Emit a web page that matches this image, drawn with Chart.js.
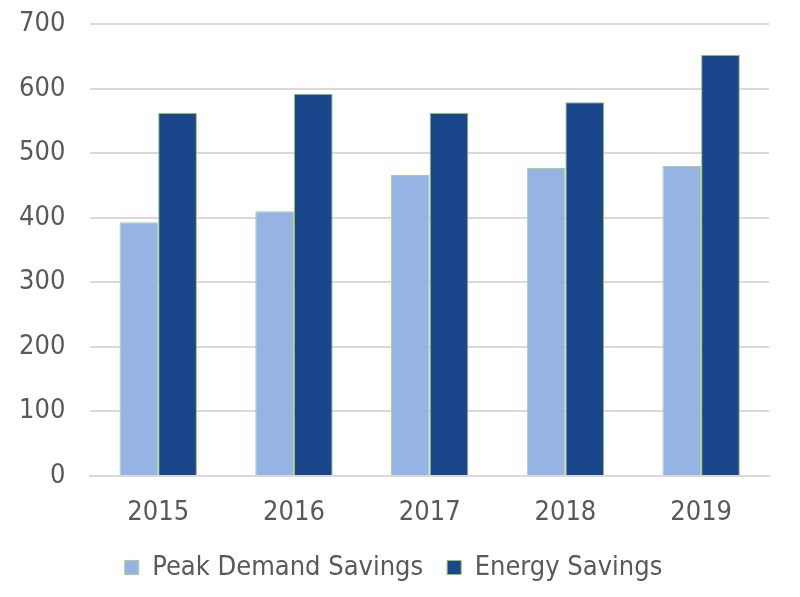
<!DOCTYPE html>
<html>
<head>
<meta charset="utf-8">
<script src="https://cdn.jsdelivr.net/npm/chart.js@4"></script>
<style>
  html, body { margin: 0; padding: 0; background: #fff; }
  #wrap { width: 800px; height: 597px; }
</style>
</head>
<body>
<div id="wrap"><canvas id="chart"></canvas></div>
<script>
const years = ["2015", "2016", "2017", "2018", "2019"];
const peakDemand = [393, 410, 466, 477, 480];
const energySavings = [562, 592, 562, 579, 652];

const textColor = "#595959";
const fontFamily = "'DejaVu Sans Condensed', 'Liberation Sans Narrow', sans-serif";

new Chart(document.getElementById("chart"), {
    type: "bar",
    data: {
        labels: years,
        datasets: [
            {
                label: "Peak Demand Savings",
                data: peakDemand,
                backgroundColor: "#95b3e3",
                borderColor: "#a9d18e",
                borderWidth: 1
            },
            {
                label: "Energy Savings",
                data: energySavings,
                backgroundColor: "#1a468c",
                borderColor: "#92c05a",
                borderWidth: 1
            }
        ]
    },
    options: {
        responsive: true,
        maintainAspectRatio: false,
        animation: false,
        layout: {padding: {top: 24, right: 31, left: 18, bottom: 6}},
        datasets: {bar: {categoryPercentage: 0.57, barPercentage: 1}},
        plugins: {
            legend: {
                position: "bottom",
                labels: {
                    color: textColor,
                    font: {family: fontFamily, size: 27, lineHeight: 1},
                    boxWidth: 14,
                    boxHeight: 14,
                    padding: 24
                }
            },
            tooltip: {enabled: false}
        },
        scales: {
            x: {
                grid: {display: false},
                border: {color: "#d9d9d9", width: 2},
                ticks: {color: textColor, font: {family: fontFamily, size: 27, lineHeight: 1}, padding: 15},
                // fixed height so the plot bottom and the legend land where the original has them
                afterFit: scale => { scale.height = 54; }
            },
            y: {
                min: 0,
                max: 700,
                ticks: {stepSize: 100, color: textColor, font: {family: fontFamily, size: 27}, padding: 1},
                grid: {color: "#d9d9d9", lineWidth: 2, drawTicks: true, tickLength: 24, tickColor: "rgba(0,0,0,0)"},
                border: {display: false}
            }
        }
    }
});
</script>
</body>
</html>
